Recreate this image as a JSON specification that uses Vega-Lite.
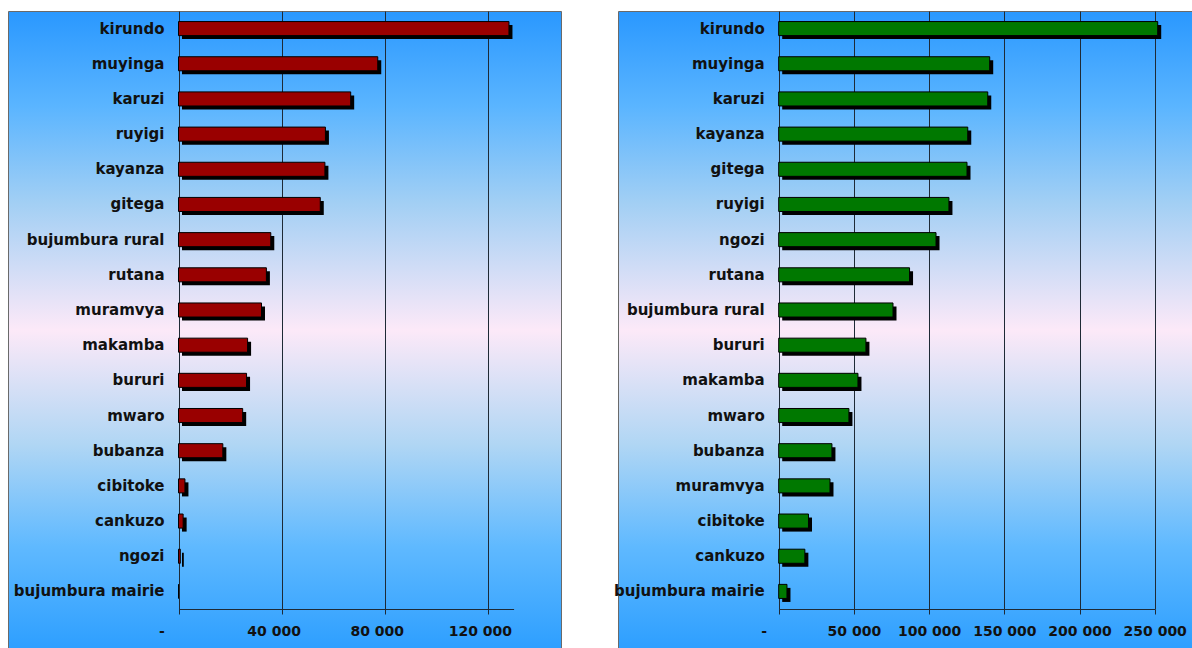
{
  "$schema": "https://vega.github.io/schema/vega-lite/v6.json",
  "padding": {"left": 7, "top": 10, "right": 0, "bottom": 0},
  "spacing": 57,
  "bounds": "flush",
  "background": "#ffffff",
  "config": {
    "view": {
      "stroke": "#6a6a6a",
      "strokeWidth": 1,
      "fill": {
        "gradient": "linear", "x1": 0, "y1": 0, "x2": 0, "y2": 1,
        "stops": [
          {"offset": 0, "color": "#2A98FF"},
          {"offset": 0.15, "color": "#5BB5FF"},
          {"offset": 0.3, "color": "#A2CFF4"},
          {"offset": 0.5, "color": "#FCE9F8"},
          {"offset": 0.68, "color": "#B0D6F4"},
          {"offset": 0.84, "color": "#5FB9FF"},
          {"offset": 1, "color": "#2E9FFF"}
        ]
      }
    }
  },
  "datasets": {
    "left": [
      {"province": "kirundo", "value": 128200},
      {"province": "muyinga", "value": 77300},
      {"province": "karuzi", "value": 66800},
      {"province": "ruyigi", "value": 57000},
      {"province": "kayanza", "value": 56800},
      {"province": "gitega", "value": 55000},
      {"province": "bujumbura rural", "value": 35800},
      {"province": "rutana", "value": 34100},
      {"province": "muramvya", "value": 32200},
      {"province": "makamba", "value": 26800},
      {"province": "bururi", "value": 26400},
      {"province": "mwaro", "value": 24900},
      {"province": "bubanza", "value": 17200},
      {"province": "cibitoke", "value": 2500},
      {"province": "cankuzo", "value": 1800},
      {"province": "ngozi", "value": 700},
      {"province": "bujumbura mairie", "value": 0}
    ],
    "right": [
      {"province": "kirundo", "value": 252000},
      {"province": "muyinga", "value": 140300},
      {"province": "karuzi", "value": 139000},
      {"province": "kayanza", "value": 125700},
      {"province": "gitega", "value": 125200},
      {"province": "ruyigi", "value": 113200},
      {"province": "ngozi", "value": 104600},
      {"province": "rutana", "value": 87000},
      {"province": "bujumbura rural", "value": 76000},
      {"province": "bururi", "value": 58000},
      {"province": "makamba", "value": 52700},
      {"province": "mwaro", "value": 46700},
      {"province": "bubanza", "value": 35400},
      {"province": "muramvya", "value": 34100},
      {"province": "cibitoke", "value": 19800},
      {"province": "cankuzo", "value": 17400},
      {"province": "bujumbura mairie", "value": 5500}
    ]
  },
  "hconcat": [
    {
      "width": 553,
      "height": 637,
      "data": {"name": "left"},
      "resolve": {"axis": {"x": "independent"}},
      "layer": [
        {
          "mark": {"type": "bar", "color": "#000000", "xOffset": 3.5, "yOffset": 3.5},
          "encoding": {
            "x": {
              "field": "value", "type": "quantitative",
              "scale": {"domain": [0, 130000], "range": [170.5, 505.6], "nice": false, "zero": true},
              "axis": {
                "orient": "top",
                "values": [0, 40000, 80000, 120000],
                "title": null,
                "grid": true, "gridColor": "#1e2a36", "gridWidth": 1, "gridDash": [598, 1000],
                "domain": false, "ticks": false, "labels": false
              }
            },
            "y": {
              "field": "province", "type": "nominal", "sort": null,
              "scale": {"range": [0, 598], "paddingInner": 0.6, "paddingOuter": 0.3},
              "axis": null
            }
          }
        },
        {
          "mark": {"type": "bar", "fill": "#990000", "stroke": "#000000", "strokeWidth": 1},
          "encoding": {
            "x": {
              "field": "value", "type": "quantitative",
              "axis": {
                "orient": "bottom",
                "values": [0, 40000, 80000, 120000],
                "title": null,
                "offset": -39,
                "grid": false,
                "domain": true, "domainColor": "#1e2a36", "domainWidth": 1,
                "ticks": true, "tickSize": 5, "tickColor": "#1e2a36",
                "labelFlush": false, "labelOverlap": false, "labelBound": false,
                "labelPadding": 10,
                "labelOffset": {"condition": {"test": "datum.value == 0", "value": -17}, "value": -8},
                "labelFont": "DejaVu Sans", "labelFontWeight": "bold", "labelFontSize": 14, "labelColor": "#111111",
                "labelExpr": "datum.value == 0 ? '-' : replace(format(datum.value, ','), ',', ' ')"
              }
            },
            "y": {"field": "province", "type": "nominal", "sort": null, "axis": null}
          }
        },
        {
          "mark": {"type": "text", "align": "right", "baseline": "middle", "dx": -14, "font": "DejaVu Sans", "fontWeight": "bold", "fontSize": 15, "color": "#111111"},
          "encoding": {
            "x": {"datum": 0, "type": "quantitative", "axis": null},
            "y": {"field": "province", "type": "nominal", "sort": null, "axis": null},
            "text": {"field": "province"}
          }
        }
      ]
    },
    {
      "width": 574,
      "height": 637,
      "data": {"name": "right"},
      "resolve": {"axis": {"x": "independent"}},
      "layer": [
        {
          "mark": {"type": "bar", "color": "#000000", "xOffset": 3.5, "yOffset": 3.5},
          "encoding": {
            "x": {
              "field": "value", "type": "quantitative",
              "scale": {"domain": [0, 250000], "range": [160.7, 536.7], "nice": false, "zero": true},
              "axis": {
                "orient": "top",
                "values": [0, 50000, 100000, 150000, 200000, 250000],
                "title": null,
                "grid": true, "gridColor": "#1e2a36", "gridWidth": 1, "gridDash": [598, 1000],
                "domain": false, "ticks": false, "labels": false
              }
            },
            "y": {
              "field": "province", "type": "nominal", "sort": null,
              "scale": {"range": [0, 598], "paddingInner": 0.6, "paddingOuter": 0.3},
              "axis": null
            }
          }
        },
        {
          "mark": {"type": "bar", "fill": "#007800", "stroke": "#000000", "strokeWidth": 1},
          "encoding": {
            "x": {
              "field": "value", "type": "quantitative",
              "axis": {
                "orient": "bottom",
                "values": [0, 50000, 100000, 150000, 200000, 250000],
                "title": null,
                "offset": -39,
                "grid": false,
                "domain": true, "domainColor": "#1e2a36", "domainWidth": 1,
                "ticks": true, "tickSize": 5, "tickColor": "#1e2a36",
                "labelFlush": false, "labelOverlap": false, "labelBound": false,
                "labelPadding": 10,
                "labelOffset": {"condition": {"test": "datum.value == 0", "value": -15}, "value": 0},
                "labelFont": "DejaVu Sans", "labelFontWeight": "bold", "labelFontSize": 14, "labelColor": "#111111",
                "labelExpr": "datum.value == 0 ? '-' : replace(format(datum.value, ','), ',', ' ')"
              }
            },
            "y": {"field": "province", "type": "nominal", "sort": null, "axis": null}
          }
        },
        {
          "mark": {"type": "text", "align": "right", "baseline": "middle", "dx": -14, "font": "DejaVu Sans", "fontWeight": "bold", "fontSize": 15, "color": "#111111"},
          "encoding": {
            "x": {"datum": 0, "type": "quantitative", "axis": null},
            "y": {"field": "province", "type": "nominal", "sort": null, "axis": null},
            "text": {"field": "province"}
          }
        }
      ]
    }
  ]
}
